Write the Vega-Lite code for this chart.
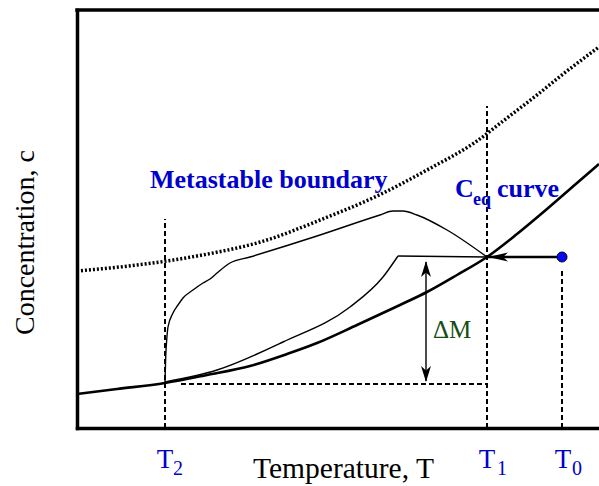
{
  "$schema": "https://vega.github.io/schema/vega-lite/v6.json",
  "width": 522,
  "height": 418,
  "autosize": "none",
  "padding": {"left": 77, "top": 10, "right": 0, "bottom": 58},
  "background": "white",
  "config": {
    "view": {"stroke": null},
    "axis": {
      "grid": false, "ticks": false, "labels": false,
      "domainColor": "black", "domainWidth": 3.5, "domainCap": "square",
      "titleFont": "Liberation Serif", "titleFontSize": 28, "titleFontWeight": "normal", "titleColor": "black"
    }
  },
  "datasets": {
    "frameTop": [{"x": 0, "x2": 522, "y": 418}],
    "ceq": [
      {"x": 0, "y": 34}, {"x": 40, "y": 39}, {"x": 88, "y": 45}, {"x": 130, "y": 53},
      {"x": 173, "y": 62}, {"x": 210, "y": 74}, {"x": 240, "y": 85}, {"x": 280, "y": 103},
      {"x": 323, "y": 123}, {"x": 350, "y": 136}, {"x": 380, "y": 153}, {"x": 410, "y": 171},
      {"x": 440, "y": 194}, {"x": 470, "y": 219}, {"x": 500, "y": 245}, {"x": 522, "y": 264}
    ],
    "meta": [
      {"x": 0, "y": 157}, {"x": 60, "y": 163}, {"x": 120, "y": 172}, {"x": 190, "y": 188},
      {"x": 243, "y": 208}, {"x": 300, "y": 232}, {"x": 350, "y": 258}, {"x": 400, "y": 287},
      {"x": 430, "y": 310}, {"x": 460, "y": 333}, {"x": 490, "y": 357}, {"x": 522, "y": 381}
    ],
    "path": [
      {"branch": "upper", "x": 88, "y": 46}, {"branch": "upper", "x": 88.7, "y": 71},
      {"branch": "upper", "x": 89.7, "y": 88}, {"branch": "upper", "x": 91, "y": 101},
      {"branch": "upper", "x": 96, "y": 115}, {"branch": "upper", "x": 101, "y": 123},
      {"branch": "upper", "x": 106, "y": 130}, {"branch": "upper", "x": 116, "y": 138},
      {"branch": "upper", "x": 126, "y": 145}, {"branch": "upper", "x": 133, "y": 149},
      {"branch": "upper", "x": 140, "y": 155}, {"branch": "upper", "x": 153, "y": 165},
      {"branch": "upper", "x": 173, "y": 171}, {"branch": "upper", "x": 240, "y": 192},
      {"branch": "upper", "x": 303, "y": 213}, {"branch": "upper", "x": 316, "y": 217},
      {"branch": "upper", "x": 326, "y": 217}, {"branch": "upper", "x": 340, "y": 213},
      {"branch": "upper", "x": 370, "y": 198}, {"branch": "upper", "x": 410, "y": 171},
      {"branch": "lower", "x": 88, "y": 46}, {"branch": "lower", "x": 140, "y": 58},
      {"branch": "lower", "x": 206, "y": 86}, {"branch": "lower", "x": 273, "y": 121},
      {"branch": "lower", "x": 306, "y": 151}, {"branch": "lower", "x": 321, "y": 172},
      {"branch": "flat", "x": 321, "y": 172}, {"branch": "flat", "x": 410, "y": 171}
    ],
    "vdash": [
      {"x": 88, "y": 0, "y2": 209},
      {"x": 410, "y": 0, "y2": 322},
      {"x": 485, "y": 0, "y2": 160}
    ],
    "hdash": [{"x": 104, "x2": 410, "y": 44}],
    "arrowLine": [{"x": 410, "x2": 485, "y": 171}],
    "deltaLine": [{"x": 349, "y": 47, "y2": 166}],
    "tipLeft": [{"x": 411, "y": 171}],
    "tipUp": [{"x": 349, "y": 167}],
    "tipDown": [{"x": 349, "y": 46}],
    "dot": [{"x": 485, "y": 171}],
    "bigBlue": [
      {"x": 73, "y": 240, "label": "Metastable boundary"},
      {"x": 378, "y": 231, "label": "C"},
      {"x": 420, "y": 231, "label": "curve"}
    ],
    "smallBlue": [{"x": 396, "y": 223, "label": "eq"}],
    "tLabels": [
      {"x": 88, "y": -40, "label": "T"},
      {"x": 410, "y": -40, "label": "T"},
      {"x": 486, "y": -40, "label": "T"}
    ],
    "tSubs": [
      {"x": 96, "y": -47, "label": "2"},
      {"x": 420, "y": -47, "label": "1"},
      {"x": 495, "y": -47, "label": "0"}
    ],
    "delta": [{"x": 356, "y": 90, "label": "ΔM"}]
  },
  "encoding": {
    "x": {
      "field": "x", "type": "quantitative",
      "scale": {"domain": [0, 522], "nice": false, "zero": false},
      "axis": {"title": "Temperature, T", "titleFontSize": 29.5, "titleX": 266, "titleY": 49, "titleAlign": "center", "titleBaseline": "alphabetic"}
    },
    "y": {
      "field": "y", "type": "quantitative",
      "scale": {"domain": [0, 418], "nice": false, "zero": false},
      "axis": {"title": "Concentration, c", "titleX": -52, "titleY": 232, "titleAngle": -90, "titleAlign": "center", "titleBaseline": "middle"}
    }
  },
  "layer": [
    {"data": {"name": "frameTop"}, "mark": {"type": "rule", "strokeWidth": 3.5, "strokeCap": "square", "color": "black"}, "encoding": {"x2": {"field": "x2"}}},
    {"data": {"name": "meta"}, "mark": {"type": "line", "interpolate": "monotone", "strokeWidth": 3.5, "strokeDash": [2, 2], "color": "black"}},
    {"data": {"name": "ceq"}, "mark": {"type": "line", "interpolate": "monotone", "strokeWidth": 2.6, "color": "black"}},
    {"data": {"name": "path"}, "mark": {"type": "line", "interpolate": "monotone", "strokeWidth": 1.4, "color": "black"}, "encoding": {"detail": {"field": "branch"}}},
    {"data": {"name": "vdash"}, "mark": {"type": "rule", "strokeWidth": 2, "strokeDash": [5, 3], "color": "black"}, "encoding": {"y2": {"field": "y2"}}},
    {"data": {"name": "hdash"}, "mark": {"type": "rule", "strokeWidth": 2, "strokeDash": [5, 3], "color": "black"}, "encoding": {"x2": {"field": "x2"}}},
    {"data": {"name": "arrowLine"}, "mark": {"type": "rule", "strokeWidth": 2.6, "color": "black"}, "encoding": {"x2": {"field": "x2"}}},
    {"data": {"name": "deltaLine"}, "mark": {"type": "rule", "strokeWidth": 1.4, "color": "black"}, "encoding": {"y2": {"field": "y2"}}},
    {"data": {"name": "tipLeft"}, "mark": {"type": "point", "shape": "M0,0L1,-0.22L0.75,0L1,0.22Z", "filled": true, "color": "black", "opacity": 1, "size": 1600}},
    {"data": {"name": "tipUp"}, "mark": {"type": "point", "shape": "M0,0L-0.31,1L0,0.72L0.31,1Z", "filled": true, "color": "black", "opacity": 1, "size": 1024}},
    {"data": {"name": "tipDown"}, "mark": {"type": "point", "shape": "M0,0L-0.31,-1L0,-0.72L0.31,-1Z", "filled": true, "color": "black", "opacity": 1, "size": 1024}},
    {"data": {"name": "dot"}, "mark": {"type": "point", "shape": "circle", "filled": true, "fill": "#0a0aee", "stroke": "#000033", "strokeWidth": 1, "opacity": 1, "size": 100}},
    {"data": {"name": "bigBlue"}, "mark": {"type": "text", "align": "left", "baseline": "alphabetic", "font": "Liberation Serif", "fontWeight": "bold", "fontSize": 26, "color": "#0000cc"}, "encoding": {"text": {"field": "label"}}},
    {"data": {"name": "smallBlue"}, "mark": {"type": "text", "align": "left", "baseline": "alphabetic", "font": "Liberation Serif", "fontWeight": "bold", "fontSize": 18, "color": "#0000cc"}, "encoding": {"text": {"field": "label"}}},
    {"data": {"name": "tLabels"}, "mark": {"type": "text", "align": "center", "baseline": "alphabetic", "font": "Liberation Serif", "fontSize": 27, "color": "#0000cc"}, "encoding": {"text": {"field": "label"}}},
    {"data": {"name": "tSubs"}, "mark": {"type": "text", "align": "left", "baseline": "alphabetic", "font": "Liberation Serif", "fontSize": 20, "color": "#0000cc"}, "encoding": {"text": {"field": "label"}}},
    {"data": {"name": "delta"}, "mark": {"type": "text", "align": "left", "baseline": "alphabetic", "font": "Liberation Serif", "fontSize": 25, "color": "#174d17"}, "encoding": {"text": {"field": "label"}}}
  ]
}
